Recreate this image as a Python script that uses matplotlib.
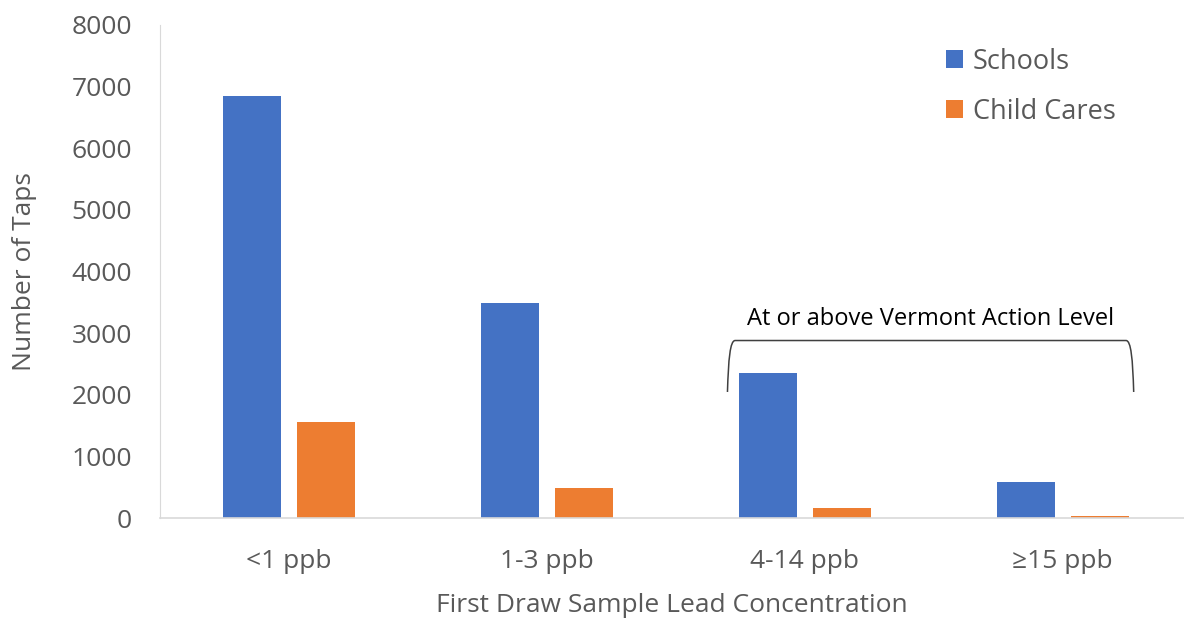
import matplotlib
matplotlib.use("Agg")
import matplotlib.pyplot as plt
from matplotlib.path import Path
from matplotlib.patches import PathPatch
import numpy as np

categories = ["<1 ppb", "1-3 ppb", "4-14 ppb", "\u226515 ppb"]
schools = [6840, 3490, 2360, 580]
child_cares = [1560, 490, 165, 40]

blue = "#4472C4"
orange = "#ED7D31"
grey_text = "#595959"

plt.rcParams["font.family"] = ["Open Sans", "DejaVu Sans"]

fig = plt.figure(figsize=(11.84, 6.19), dpi=100)
ax = fig.add_axes([160 / 1184, 101 / 619, 1 - 160 / 1184, (518 - 25) / 619])

x = np.arange(len(categories))
w = 0.225
off = 0.143
ax.bar(x - off, schools, w, color=blue, label="Schools")
ax.bar(x + off, child_cares, w, color=orange, label="Child Cares")

ax.set_xlim(-0.5, 3.47)
ax.set_ylim(0, 8000)
ax.set_yticks(range(0, 8001, 1000))
ax.set_xticks(x)
ax.set_xticklabels(categories)
ax.tick_params(axis="both", length=0, labelsize=19, colors=grey_text)
ax.tick_params(axis="x", pad=22)
ax.tick_params(axis="y", pad=20)

for s in ["top", "right"]:
    ax.spines[s].set_visible(False)
ax.spines["left"].set_color("#D9D9D9")
ax.spines["bottom"].set_color("#D9D9D9")
ax.spines["bottom"].set_linewidth(1.2)

ax.set_ylabel("Number of Taps", fontsize=19, color=grey_text, labelpad=25)
ax.set_xlabel("First Draw Sample Lead Concentration", fontsize=19,
              color=grey_text, labelpad=14)

leg = ax.legend(loc="upper right", bbox_to_anchor=(0.957, 1.003), frameon=False,
                fontsize=19.5, labelspacing=0.8, handlelength=0.65,
                handleheight=0.65, handletextpad=0.35, labelcolor=grey_text)

# bracket over the action-level groups
x0, x1 = 1.70, 3.275
ytop, ybot = 2880, 2045
r = 0.03
verts = [(x0, ybot), (x0 + 0.004, ytop - 300), (x0 + 0.01, ytop), (x0 + r, ytop),
         (x1 - r, ytop),
         (x1 - r, ytop), (x1 - 0.01, ytop), (x1 - 0.004, ytop - 300), (x1, ybot)]
codes = [Path.MOVETO, Path.CURVE4, Path.CURVE4, Path.CURVE4,
         Path.LINETO,
         Path.LINETO, Path.CURVE4, Path.CURVE4, Path.CURVE4]
ax.add_patch(PathPatch(Path(verts, codes), facecolor="none",
                       edgecolor="#404040", lw=1.1))
ax.text((x0 + x1) / 2, 3230, "At or above Vermont Action Level",
        ha="center", va="center", fontsize=17, color="black")

fig.savefig("out.png", dpi=100)
